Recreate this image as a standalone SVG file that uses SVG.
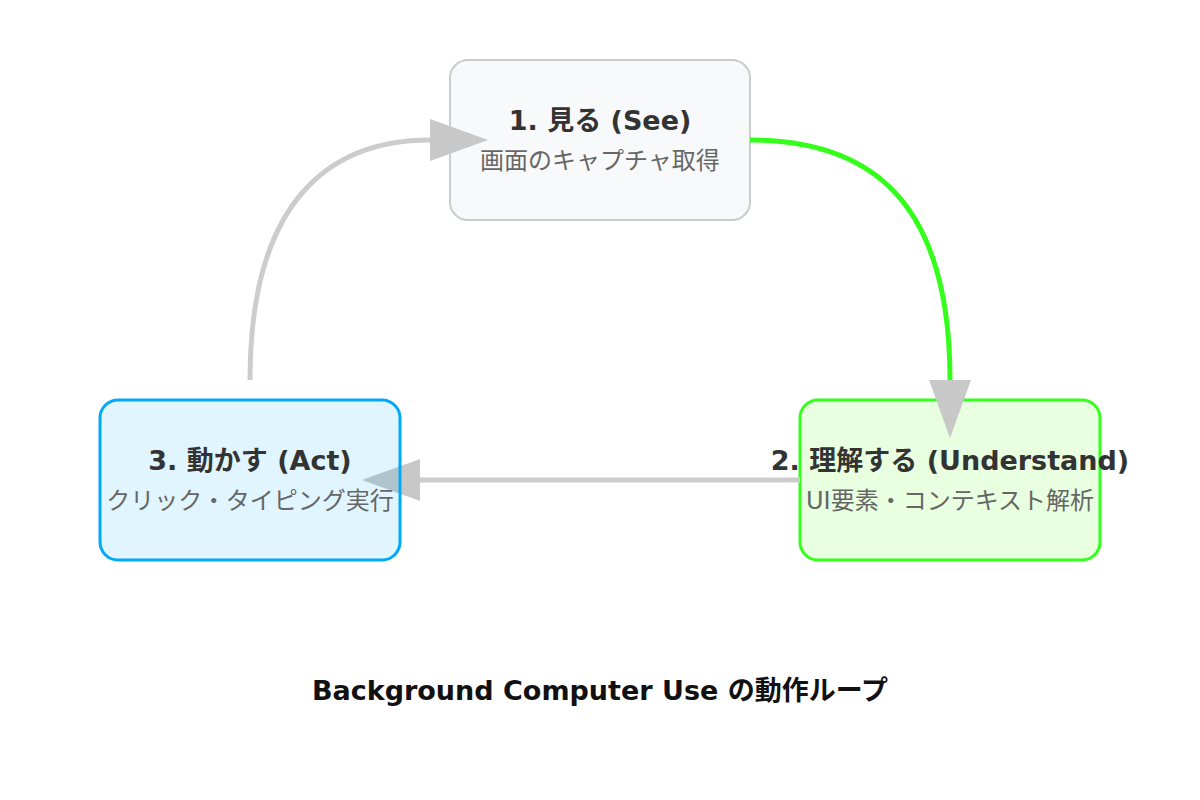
<svg xmlns="http://www.w3.org/2000/svg" width="1200" height="800" viewBox="0 0 1200 800">
<defs>
<style>
.ttl{font-family:"DejaVu Sans","Noto Sans CJK JP",sans-serif;font-weight:bold;font-size:27px;fill:#333;text-anchor:middle}
.sub{font-family:"DejaVu Sans","Noto Sans CJK JP",sans-serif;font-size:24px;fill:#666;text-anchor:middle}
.cap{font-family:"DejaVu Sans","Noto Sans CJK JP",sans-serif;font-weight:bold;font-size:27px;fill:#111;text-anchor:middle}
.edge{fill:none;stroke-width:5}
.head{fill:#c8c8c8}
</style>
</defs>
<rect width="1200" height="800" fill="#ffffff"/>
<g id="node-see">
<rect x="450" y="60" width="300" height="160" rx="18" fill="#f8f9fa" stroke="#cccccc" stroke-width="2"/>
<text class="ttl" x="600" y="130">1. 見る (See)</text>
<text class="sub" x="600" y="169">画面のキャプチャ取得</text>
</g>
<g id="node-understand">
<rect x="800" y="400" width="300" height="160" rx="18" fill="#e8ffe0" stroke="#33ff1a" stroke-width="3"/>
<text class="ttl" x="950" y="470">2. 理解する (Understand)</text>
<text class="sub" x="950" y="509">UI要素・コンテキスト解析</text>
</g>
<g id="connectors">
<path class="edge" stroke="#33ff1a" d="M750,140 C870,140 950,200 950,380"/>
<polygon class="head" points="929,380 971,380 950,438"/>
<path class="edge" stroke="#cccccc" d="M800,480 L420,480"/>
<polygon class="head" points="420,459 420,501 362,480"/>
<path class="edge" stroke="#cccccc" d="M250,380 C250,200 330,140 430,140"/>
<polygon class="head" points="430,119 430,161 488,140"/>
</g>
<g id="node-act">
<rect x="100" y="400" width="300" height="160" rx="18" fill="#03a9f4" fill-opacity="0.12" stroke="#03a9f4" stroke-width="3"/>
<text class="ttl" x="250" y="470">3. 動かす (Act)</text>
<text class="sub" x="250" y="509">クリック・タイピング実行</text>
</g>
<g id="caption">
<text class="cap" x="600" y="700">Background Computer Use の動作ループ</text>
</g>
</svg>
